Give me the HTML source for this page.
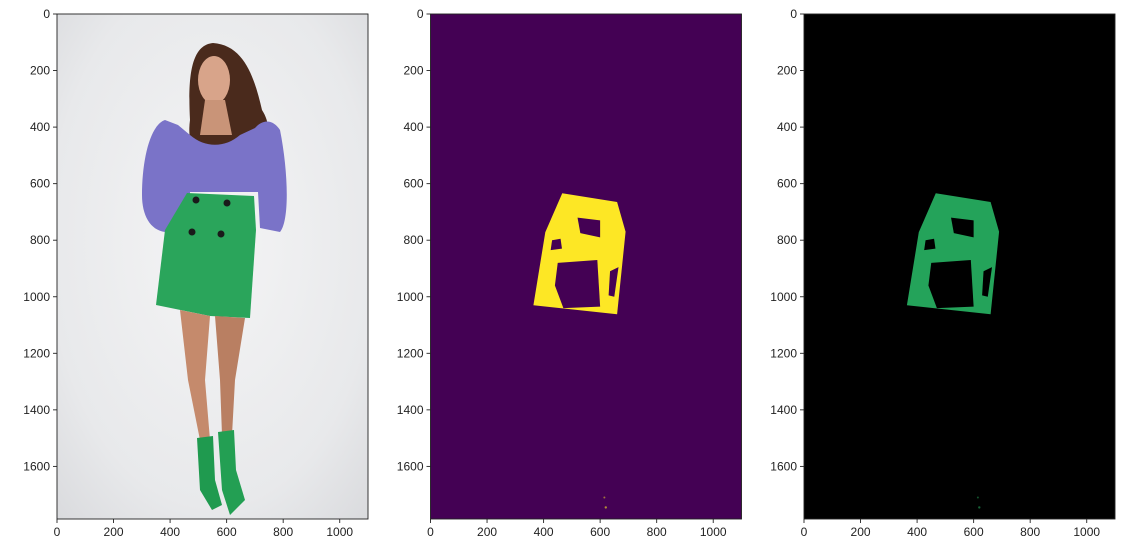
<!DOCTYPE html>
<html><head><meta charset="utf-8"><style>
body{margin:0;background:#fff;}
svg text{font-family:"Liberation Sans","DejaVu Sans",sans-serif;font-size:12px;fill:#222;}
</style></head><body>
<svg id="fig" width="1130" height="555" xmlns="http://www.w3.org/2000/svg">
<defs>
<radialGradient id="bg" cx="0.5" cy="0.45" r="0.75">
<stop offset="0" stop-color="#f4f4f5"/><stop offset="0.7" stop-color="#e8e9eb"/><stop offset="1" stop-color="#d9dadd"/>
</radialGradient>
</defs>
</svg>
<script>
const xTicks=[0,200,400,600,800,1000];
const yTicks=[0,200,400,600,800,1000,1200,1400,1600];
const imgW=1100, imgH=1786;
const panelLefts=[57,430.5,804];
const topY=14, pw=311, ph=505;
// skirt mask outline (image coords)
const maskX=[466,660,690,660,364,406];
const maskY=[634,665,770,1062,1030,772];
// dark holes inside mask (image coords polygons)
const holes=[
 [[450,880],[590,870],[600,1035],[470,1040],[440,960]],
 [[520,720],[600,730],[600,790],[530,775]],
 [[430,800],[460,795],[465,830],[425,835]],
 [[635,910],[665,895],[650,1000],[630,995]]
];
const NS="http://www.w3.org/2000/svg";
const svg=document.getElementById('fig');
function mk(t,a,p){const e=document.createElementNS(NS,t);for(const k in a)e.setAttribute(k,a[k]);(p||svg).appendChild(e);return e;}
function sx(i,v){return panelLefts[i]+v/imgW*pw;}
function sy(v){return topY+v/imgH*ph;}

const g1=mk('g',{});


mk('rect',{x:57,y:topY,width:pw,height:ph,fill:'url(#bg)'},g1);
mk('path',{d:'M213,43 C190,45 188,80 190,120 C186,150 200,160 215,150 L250,150 C265,150 275,130 262,110 C255,80 245,45 213,43Z',fill:'#4a2a1c'},g1);
mk('ellipse',{cx:214,cy:80,rx:16,ry:24,fill:'#d8a48a'},g1);
mk('path',{d:'M205,100 L225,100 L232,135 L200,135Z',fill:'#c99478'},g1);
mk('path',{d:'M165,120 C150,125 142,160 142,195 C142,215 150,230 165,232 L190,228 L190,192 L258,192 L260,228 L280,232 C290,220 288,170 280,130 C272,118 262,120 255,128 L240,135 C225,148 205,148 190,135 L178,125Z',fill:'#7a73c8'},g1);
mk('path',{d:'M187,193 L254,196 L256,230 L250,318 L210,316 L156,305 L165,230Z',fill:'#2aa55b'},g1);
[[196,200],[227,203],[192,232],[221,234]].forEach(p=>mk('circle',{cx:p[0],cy:p[1],r:3.5,fill:'#1a1a1a'},g1));
mk('path',{d:'M180,310 L210,316 L205,380 L210,440 L200,440 L188,380Z',fill:'#c58a6c'},g1);
mk('path',{d:'M215,316 L245,318 L235,380 L232,435 L222,435 L220,380Z',fill:'#b97f62'},g1);
mk('path',{d:'M197,438 L213,436 L215,480 L222,505 L212,510 L200,490Z',fill:'#1f9a4f'},g1);
mk('path',{d:'M218,432 L234,430 L236,470 L245,500 L230,515 L222,490Z',fill:'#239f53'},g1);

function maskPanel(i,bg,fg,dark,name){
  const g=mk('g',{});
  
  
  mk('rect',{x:panelLefts[i],y:topY,width:pw,height:ph,fill:bg},g);
  mk('polygon',{points:maskX.map((x,k)=>sx(i,x)+','+sy(maskY[k])).join(' '),fill:fg},g);
  holes.forEach(h=>mk('polygon',{points:h.map(p=>sx(i,p[0])+','+sy(p[1])).join(' '),fill:dark},g));
  mk('circle',{cx:sx(i,620),cy:sy(1745),r:1.2,fill:fg,opacity:0.6},g);
  mk('circle',{cx:sx(i,615),cy:sy(1710),r:1,fill:fg,opacity:0.5},g);
}
maskPanel(1,'#440154','#fde725','#440154','mask-panel');
maskPanel(2,'#000000','#24a35a','#000000','masked-skirt-panel');

panelLefts.forEach((L,i)=>{
  const ax=mk('rect',{x:L,y:topY,width:pw,height:ph,fill:'none',stroke:'#222','stroke-width':0.9});
  
  
  xTicks.forEach(t=>{
    const x=sx(i,t);
    mk('line',{x1:x,x2:x,y1:topY+ph,y2:topY+ph+4,stroke:'#222','stroke-width':0.9});
    const tx=mk('text',{x:x,y:topY+ph+17,'text-anchor':'middle'});tx.textContent=t;
    
    
  });
  yTicks.forEach(t=>{
    const y=sy(t);
    mk('line',{x1:L-4,x2:L,y1:y,y2:y,stroke:'#222','stroke-width':0.9});
    const ty=mk('text',{x:L-7,y:y+4,'text-anchor':'end'});ty.textContent=t;
    
    
  });
});
</script>
</body></html>
